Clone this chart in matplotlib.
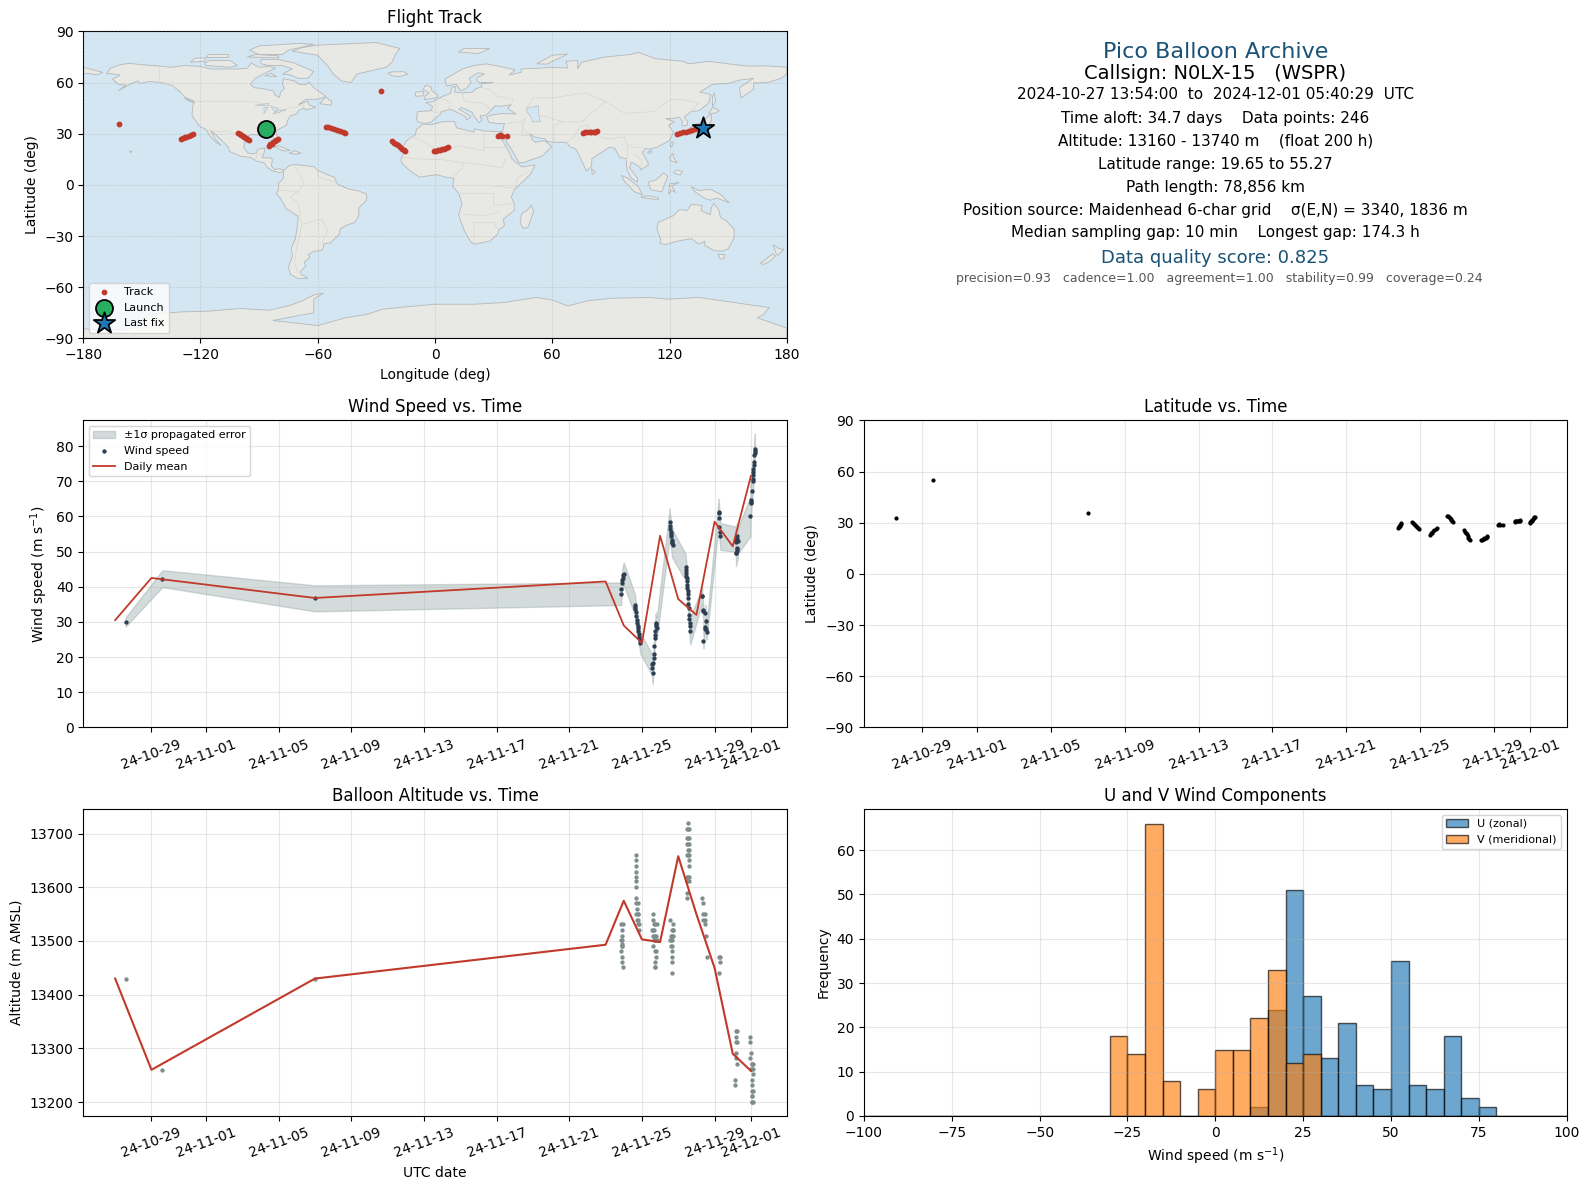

# Pico balloon flight summary: track map, info panel, wind / latitude / altitude series, wind histogram
import matplotlib
matplotlib.use('Agg')
import matplotlib.pyplot as plt
from matplotlib.patches import Polygon
import matplotlib.dates as mdates
import numpy as np
import pandas as pd

# ---------- data, all times are days relative to 2024-11-25 00:00 UTC ----------
base = pd.Timestamp('2024-11-25')

fix_t = [-28.42, -26.40, -18.0,
         -1.17, -1.15, -1.12, -1.10, -1.07, -1.04, -1.00,
         -0.42, -0.37, -0.31, -0.26, -0.21, -0.15, -0.10, -0.05,
         0.53, 0.60, 0.66, 0.72, 0.79, 0.86, 0.93,
         1.50, 1.54, 1.59, 1.63, 1.67, 1.72, 1.77, 1.81,
         2.41, 2.46, 2.50, 2.54, 2.59, 2.63, 2.68, 2.72,
         3.30, 3.36, 3.41, 3.46, 3.51, 3.57, 3.62, 3.67,
         4.27, 4.30, 4.36, 4.50,
         5.15, 5.19, 5.24, 5.28, 5.33, 5.37, 5.42, 5.46,
         5.97, 6.00, 6.04, 6.07, 6.11, 6.14, 6.18, 6.21, 6.236]
fix_lon = [-86.5, -27.6, -161.7,
           -129.7, -129.0, -128.1, -127.2, -126.1, -125.0, -124.0,
           -100.6, -100.0, -99.1, -98.4, -97.6, -96.7, -96.0, -95.2,
           -85.0, -84.2, -83.6, -82.8, -81.9, -81.2, -80.4,
           -56.0, -54.6, -53.1, -51.5, -50.1, -48.4, -47.1, -46.0,
           -22.0, -21.1, -20.0, -19.1, -18.0, -17.1, -16.0, -15.4,
           -0.6, 0.5, 1.4, 2.6, 3.4, 4.6, 5.5, 6.4,
           32.0, 33.1, 34.5, 36.8,
           75.7, 76.9, 77.8, 79.1, 80.0, 81.1, 82.0, 83.0,
           124.0, 125.4, 127.1, 128.6, 130.0, 131.4, 133.1, 134.4, 137.0]
fix_lat = [33.0, 55.27, 35.8,
           27.1, 27.5, 27.9, 28.3, 28.7, 29.1, 29.6,
           30.4, 29.9, 29.2, 28.7, 28.0, 27.4, 26.9, 26.3,
           23.0, 23.7, 24.2, 24.9, 25.6, 26.1, 26.8,
           34.1, 33.7, 33.2, 32.6, 32.2, 31.8, 31.1, 30.6,
           25.5, 24.8, 24.1, 23.2, 22.4, 21.3, 20.4, 19.7,
           19.65, 20.0, 20.4, 20.6, 20.9, 21.3, 21.6, 22.0,
           28.9, 29.0, 28.8, 28.8,
           30.7, 30.8, 30.9, 31.0, 31.1, 31.2, 31.3, 31.4,
           29.9, 30.3, 30.8, 31.3, 31.8, 32.2, 32.7, 33.2, 33.6]

wind_t = [-28.42, -26.40, -18.0,
          -1.15, -1.14, -1.10, -1.08, -1.05, -1.03, -1.00,
          -0.38, -0.37, -0.36, -0.34, -0.31, -0.29, -0.26, -0.24, -0.22, -0.19, -0.17, -0.14, -0.11, -0.09,
          0.55, 0.57, 0.60, 0.62, 0.64, 0.66, 0.69, 0.70, 0.71, 0.73, 0.75, 0.77, 0.79, 0.82,
          1.53, 1.54, 1.56, 1.58, 1.60, 1.62, 1.64, 1.66, 1.68, 1.70,
          2.41, 2.42, 2.43, 2.45, 2.46, 2.47, 2.49, 2.50, 2.51, 2.53, 2.54, 2.56, 2.57, 2.60, 2.61, 2.63, 2.64, 2.66,
          3.31, 3.32, 3.36, 3.38, 3.39, 3.45, 3.47, 3.50, 3.52, 3.55, 3.56,
          4.22, 4.23, 4.25, 4.27, 4.31, 4.32,
          5.16, 5.17, 5.18, 5.19, 5.21, 5.22, 5.23, 5.24, 5.26, 5.28,
          5.97, 5.98, 5.99, 6.00, 6.04, 6.09, 6.10, 6.12, 6.13, 6.14, 6.15, 6.16, 6.19, 6.20, 6.21, 6.22]
wind_v = [30.0, 42.3, 36.7,
          38.0, 39.4, 41.0, 42.0, 42.6, 43.2, 43.7,
          34.8, 34.3, 33.6, 32.9, 31.6, 30.6, 29.7, 28.9, 28.3, 27.4, 26.5, 25.8, 24.9, 24.0,
          17.9, 16.8, 15.4, 18.2, 19.8, 20.8, 23.1, 25.3, 26.4, 27.4, 29.3, 28.8, 29.8, 28.3,
          58.3, 57.2, 56.4, 55.7, 55.0, 54.3, 53.4, 52.4, 52.8, 52.0,
          45.5, 44.7, 43.9, 43.0, 42.5, 41.6, 40.6, 39.5, 38.7, 37.8, 36.8, 35.0, 34.0, 32.1, 30.7, 29.7, 28.8, 27.4,
          37.5, 37.4, 33.5, 33.0, 24.7, 28.1, 28.6, 32.6, 30.2, 27.9, 27.2,
          61.2, 61.1, 59.5, 57.1, 55.6, 54.3,
          53.5, 52.7, 49.5, 49.6, 50.2, 50.6, 54.5, 53.5, 51.0, 53.0,
          60.0, 63.8, 64.7, 64.0, 67.2, 70.0, 70.7, 71.9, 72.5, 73.6, 74.5, 75.4, 77.5, 77.9, 78.5, 79.1]
wind_err = ([1.3, 2.4, 3.7] + [3.2] * 7 + [3.0] * 14 + [3.0] * 14 + [4.0] * 10 + [3.8] * 18
            + [2.2] * 11 + [3.8] * 6 + [3.6] * 10 + [5.7] * 3 + [4.5] * 13)

mean_t = [-29, -27, -18, -2, -1, 0, 1, 2, 3, 4, 5, 6]
mean_wind = [30.5, 42.5, 36.8, 41.5, 29.0, 24.0, 54.5, 36.5, 32.0, 58.5, 51.5, 71.5]
mean_alt = [13430, 13260, 13430, 13493, 13575, 13503, 13498, 13658, 13550, 13450, 13290, 13258]

alt_t = [-28.42, -26.40, -18.0,
         -1.13, -1.04, -1.08, -1.08, -1.13, -1.08, -1.10, -1.08, -1.13, -1.10, -1.08, -1.06, -1.10,
         -0.35, -0.33, -0.34, -0.33, -0.33, -0.34, -0.33, -0.31, -0.20, -0.31, -0.26, -0.22, -0.30, -0.24, -0.20, -0.27, -0.22, -0.16, -0.17,
         0.60, 0.60, 0.64, 0.71, 0.82, 0.58, 0.62, 0.68, 0.60, 0.66, 0.72, 0.78, 0.64, 0.70, 0.82, 0.60, 0.77, 0.73, 0.76, 0.73, 0.72, 0.70,
         1.57, 1.70, 1.66, 1.70, 1.72, 1.60, 1.64, 1.70, 1.57, 1.62, 1.66, 1.58, 1.64, 1.64, 1.66, 1.64, 1.64,
         2.53, 2.50, 2.54, 2.58, 2.50, 2.55, 2.58, 2.50, 2.55, 2.58, 2.55, 2.60, 2.50, 2.55, 2.60, 2.58, 2.58, 2.47, 2.52, 2.58, 2.50, 2.58, 2.47, 2.47,
         3.29, 3.34, 3.37, 3.45, 3.46, 3.38, 3.46, 3.51, 3.56,
         4.22, 4.30, 4.31, 4.22,
         5.20, 5.26, 5.20, 5.18, 5.24, 5.16, 5.20, 5.24, 5.13, 5.13,
         5.97, 5.97, 5.99, 5.97, 6.04, 6.08, 6.13, 6.03, 6.06, 6.13, 6.10, 6.06, 6.04, 6.06, 6.10, 6.04, 6.07, 6.13, 6.08, 6.05]
alt_v = [13430, 13260, 13430,
         13531, 13531, 13520, 13510, 13501, 13501, 13495, 13490, 13481, 13471, 13460, 13451, 13490,
         13661, 13650, 13640, 13629, 13620, 13611, 13600, 13581, 13570, 13570, 13560, 13550, 13550, 13550, 13540, 13540, 13531, 13531, 13520,
         13551, 13540, 13531, 13531, 13531, 13520, 13520, 13520, 13510, 13510, 13510, 13510, 13501, 13501, 13501, 13490, 13481, 13481, 13471, 13460, 13451, 13451,
         13540, 13531, 13520, 13520, 13520, 13510, 13510, 13510, 13501, 13501, 13501, 13490, 13490, 13481, 13471, 13460, 13441,
         13720, 13709, 13709, 13709, 13691, 13691, 13691, 13680, 13680, 13680, 13670, 13670, 13661, 13661, 13661, 13650, 13640, 13620, 13620, 13620, 13611, 13611, 13590, 13581,
         13581, 13570, 13551, 13551, 13540, 13540, 13531, 13510, 13471,
         13471, 13471, 13460, 13441,
         13332, 13332, 13321, 13311, 13311, 13291, 13282, 13270, 13241, 13231,
         13321, 13311, 13291, 13282, 13270, 13270, 13270, 13261, 13261, 13261, 13252, 13241, 13231, 13221, 13221, 13211, 13200, 13200, 13200, 13211]

hist_edges = list(range(-100, 105, 5))
u_counts = [0] * 22 + [2, 24, 51, 27, 13, 21, 7, 6, 35, 7, 6, 18, 4, 2, 0, 0, 0, 0]
v_counts = [0] * 14 + [18, 14, 66, 8, 0, 6, 15, 15, 22, 33, 12, 14] + [0] * 14

date_ticks = ['2024-10-29', '2024-11-01', '2024-11-05', '2024-11-09', '2024-11-13', '2024-11-17',
              '2024-11-21', '2024-11-25', '2024-11-29', '2024-12-01']

info_lines = ['2024-10-27 13:54:00  to  2024-12-01 05:40:29  UTC',
              'Time aloft: 34.7 days    Data points: 246',
              'Altitude: 13160 - 13740 m    (float 200 h)',
              'Latitude range: 19.65 to 55.27',
              'Path length: 78,856 km',
              'Position source: Maidenhead 6-char grid    \u03c3(E,N) = 3340, 1836 m',
              'Median sampling gap: 10 min    Longest gap: 174.3 h']

# rough land outlines, (lon, lat) read by eye
land = [
    [(-168,65.5),(-166,68.5),(-161,70.5),(-156.5,71.3),(-150,70.5),(-141,69.7),(-135,69),(-128,70),(-120,69.5),(-115,68),(-108,68),(-100,68),(-96,68.5),(-94,71.5),(-90,69),(-85,69.5),(-81.5,68.5),(-87,65.5),(-92,62.5),(-94.5,59),(-92.5,57),(-88,56.5),(-82.5,55),(-82,52.8),(-79.5,51.3),(-79,54.5),(-77,56.5),(-78,59),(-77.5,62.3),(-72,61),(-69.5,59),(-66,58.8),(-64.5,60.3),(-61.5,56.5),(-57,53),(-56,51.7),(-60,50.2),(-66,50.2),(-70,47),(-65,49),(-64.5,47),(-61,45.5),(-66,44),(-67,45),(-70,43.5),(-70.5,41.7),(-74,40.5),(-75.5,37.5),(-76,35),(-78,33.8),(-81,32),(-81.3,30),(-80,27),(-80.3,25.2),(-81.8,26),(-82.8,28),(-84,30),(-88,30.3),(-89.5,29.2),(-91,29.3),(-94,29.5),(-97,28),(-97.5,25),(-97.8,22),(-95.8,18.8),(-94,18.2),(-91.5,18.5),(-90.5,21),(-87,21.5),(-87.5,18.5),(-88.5,16),(-84,15.8),(-83.2,14.9),(-83.7,11),(-82,9),(-79.5,9.5),(-77.3,8.5),(-78,7.5),(-80,7.3),(-83,8.2),(-85.7,10),(-87.5,13),(-91.5,14),(-94.5,16.2),(-99,16.7),(-105,19.5),(-105.7,22),(-109,26),(-112.7,30),(-114.7,31.7),(-112.5,27),(-109.5,23),(-112,25),(-115,28.5),(-117.2,32.5),(-120.5,34.5),(-122.5,37.7),(-124.3,40.5),(-124,46),(-123,49),(-128,51.5),(-130.5,54.5),(-134,58),(-139,59.8),(-146,60.7),(-151,59.5),(-152,61),(-157,58.5),(-162,55.2),(-158,58.5),(-162,59),(-165,62),(-161,64.5)],
    [(-80,73.5),(-72,71.5),(-67,69),(-62,66.5),(-65,62.5),(-70,62.5),(-74,64.5),(-78,65),(-73,68),(-78,70),(-85,70),(-89,71),(-89,73.5)],
    [(-117,70),(-105,69),(-101,70),(-105,73),(-115,73),(-118,71.5)],
    [(-125,72),(-118,72.5),(-117,74.5),(-123,74.3)],
    [(-90,76.5),(-78,76.5),(-75,79),(-62,82.5),(-70,83),(-90,81.5),(-95,79)],
    [(-96,75),(-80,74.5),(-80,75.7),(-92,76.5)],
    [(-117,75),(-106,75),(-106,76.5),(-116,76.5)],
    [(-87,64),(-81,63.5),(-84,65.5)],
    [(-59,47.7),(-53,46.7),(-53,49),(-56,51.5)],
    [(-128,50.8),(-123.5,48.4),(-125,48.8)],
    [(-85,22),(-80,23),(-74.2,20.2),(-77.5,19.9),(-82,22.3)],
    [(-74.5,18.5),(-72,20),(-68.5,18.7),(-71,18)],
    [(-156,20),(-155,19.5),(-156,19)],
    [(-73,78.5),(-60,76),(-55,70),(-52,65),(-48,61),(-43,60),(-40,65),(-25,69),(-22,72),(-20,77),(-18,80),(-30,83.5),(-60,82),(-68,80.5)],
    [(-24,65.5),(-22,64),(-18,63.5),(-14,65),(-16,66.4),(-22,66.3)],
    [(-77.3,8.5),(-75,11),(-72,12),(-68,11.5),(-62,10.7),(-60,8.5),(-55,6),(-51.5,4.5),(-50,0.5),(-44,-2.5),(-39,-3.5),(-35,-5.5),(-35,-9),(-39,-13.5),(-39,-18),(-41,-22),(-46,-24),(-48.5,-26),(-49,-29),(-53.5,-34),(-57,-34.5),(-57,-36.5),(-58,-38.5),(-62,-39),(-65,-41),(-64,-42.5),(-67,-45.5),(-66,-47.5),(-69,-51),(-68.5,-52.5),(-65,-54.8),(-70,-55),(-74,-52.5),(-75,-48),(-73,-42),(-73.5,-37),(-71.5,-32),(-70.5,-25),(-70,-18.5),(-76,-14),(-79,-8),(-81.2,-5),(-80,-2.5),(-80,1),(-77.5,4),(-77.5,7)],
    [(-6,35.8),(-2,35.2),(3,36.9),(10,37.3),(11,33.5),(15,32.4),(20,31),(20,32.8),(25,31.7),(32,31.2),(34.3,31.2),(32.6,29.5),(35.5,24),(37.3,20.5),(39.5,15),(43.2,11.7),(44.5,10.5),(51.2,11.8),(49,6.5),(45,2),(40.5,-3),(39,-7),(40.5,-11),(40.5,-15),(35,-20),(35.5,-24),(32.8,-26),(32,-29),(28,-33),(20,-34.8),(18.3,-33.5),(15,-27),(12,-17.5),(13.8,-11),(12.2,-5),(9,-1),(9.7,4),(6,4.3),(1,6),(-4,5.2),(-8,4.5),(-13,8.5),(-16.8,12.5),(-17.5,14.7),(-16,19),(-17,21),(-14.5,26),(-10,29.5),(-9.5,32.5)],
    [(49.3,-12),(50.5,-15.5),(47.5,-25),(45,-25.5),(43.5,-22),(44.3,-17),(47,-15)],
    [(-9,37),(-9.4,39),(-9,43),(-2,43.5),(-1.2,46),(-4.7,48.4),(-1.5,48.7),(1.5,50.5),(4,52),(8,53.7),(8.5,57),(10.7,57.7),(10,54.5),(14,54),(19,54.4),(21,56.5),(24,57.5),(23.5,59.3),(30,60),(23,60),(21.3,61),(21.5,63),(25.3,65),(22,65.8),(17.5,62.5),(18.5,60),(16.5,57),(14.3,55.5),(12.8,55.6),(11,59),(6,58),(5,62),(14,68),(20,70),(26,71),(31,70),(41,67.5),(38,64.5),(44,66),(44,68),(54,68.5),(60,69),(68,68.5),(67,72.5),(73,73),(73,68),(75,72),(81,73.5),(87,75),(100,76.5),(104,77.7),(113,74),(127,72.5),(130,71),(140,72.5),(150,71),(160,69.7),(170,69.8),(180,69),(180,65),(177,62.5),(170,60),(163,59.8),(163,56),(156.5,51),(155.7,57),(163,62.5),(156,61.5),(150,59.5),(142,59),(135.5,54.5),(141,53),(140,48),(135,43.5),(131,43),(127.5,39.8),(129.3,37),(129,35),(126.3,34.5),(126.5,37.5),(125,39.7),(121.5,39),(118,39),(122.5,37),(119.5,35),(122,31),(120,26),(114,22.3),(110,21),(108,21.5),(106,19),(109,13),(109,11.5),(105,8.7),(105,10.2),(100.5,13.5),(99.5,10),(103.5,4),(103.5,1.5),(100.5,4),(98.3,8.5),(97.7,15.5),(94.5,16),(92,21.5),(89,22),(86.5,20),(80.3,15.5),(80,11),(77.5,8),(73,19),(72,21),(69,22.5),(67,25),(61.5,25),(57,25.5),(56.5,27),(51,28),(48.5,30),(50,26),(51.5,25),(56,26),(59.8,22.5),(55,17),(45,13),(43,13),(39,21),(35,28),(34.5,31.3),(35.5,36),(32,36),(27.5,36.7),(26.5,40),(29,41),(35,42),(41.5,41.5),(37,45),(39,47),(33.5,46),(31,46.5),(28,43),(26,40.8),(23,40.5),(24,38),(22.5,36.5),(19.5,41),(19,42.5),(13.5,45.5),(12.3,44.5),(16,41.8),(18.4,40),(16,38),(15.7,40),(10.5,43),(8,44.3),(3.2,43),(3,41.7),(-0.5,38.5),(-2,36.8),(-5.5,36)],
    [(-180,69),(-175,67.5),(-170,66),(-173,64.5),(-178,65.5),(-180,65)],
    [(-5.5,50),(1.3,51.2),(1.5,52.8),(-1.5,55),(-2,57.5),(-5,58.5),(-6,56),(-3,54),(-5,52)],
    [(-10,52),(-6,52.2),(-6,55),(-10,54.3)],
    [(52,71),(57,70.8),(68,76.8),(60,76)],
    [(12,78),(22,77),(28,80),(15,80)],
    [(142,46),(143.5,49),(143,54),(142,52)],
    [(130.5,31.3),(132,33),(135.5,33.6),(140,35),(141.5,38),(141.3,41.3),(140,40.5),(137,37),(132.5,35),(130.5,33.5)],
    [(140,42),(143,42),(145.5,43.5),(142,45.5)],
    [(120.2,23),(121,22),(122,25),(121,25.2)],
    [(108.7,19),(110,18.3),(111,20),(109.8,20)],
    [(120,16),(121.7,18.5),(122,16),(124,13),(120.7,14)],
    [(122,7),(125.5,5.7),(126.5,8),(123.5,8.7)],
    [(109,1.5),(113,3),(117,7),(119,5),(117.7,1),(116,-4),(110.5,-3)],
    [(95.3,5.6),(98.5,4),(104,-1),(106,-5.8),(102,-4),(97,2)],
    [(105.3,-6.7),(110,-6.5),(114.5,-7.7),(114,-8.7),(106,-7.5)],
    [(119.5,-5.5),(120,0.5),(125,1.5),(121,-0.5),(123,-4.5),(121,-3)],
    [(131,-1),(135,-3.3),(141,-2.6),(146,-5.5),(150.5,-10.5),(144,-7.7),(141,-9),(138,-8),(133,-4)],
    [(80,9.5),(82,7.5),(80.5,6)],
    [(114,-22),(113.5,-26),(115.5,-32),(115,-34.3),(118,-35),(124,-33),(131,-31.5),(135,-34.7),(138,-33),(138,-35.5),(143,-38.7),(147,-38.8),(150,-37.5),(153,-31),(153,-26),(149,-21),(146,-19),(145.3,-15),(142.7,-10.8),(141.5,-13),(140.8,-17.5),(136,-15),(136.7,-12),(131,-11.5),(129,-15),(125,-14.5),(122,-18)],
    [(144.7,-40.7),(148.3,-40.8),(147.8,-43.2),(146,-43.5)],
    [(173,-35),(176,-37.5),(178.5,-37.7),(175.3,-41.5),(174,-39)],
    [(172.7,-40.6),(174.2,-41.7),(171,-45),(168,-46.7),(166.5,-46),(171,-42)],
    [(-180,-90),(-180,-84.5),(-158,-85),(-150,-81),(-146,-76),(-130,-74.5),(-115,-74),(-100,-72.5),(-85,-73.5),(-75,-71),(-68,-68),(-62,-64.5),(-57,-63.5),(-62,-67),(-62,-72),(-62,-75),(-83,-79.5),(-60,-82.5),(-46,-78),(-35,-76),(-27,-73),(-15,-71.5),(0,-70),(20,-70),(35,-69),(52,-66),(60,-67.5),(68,-71),(78,-68),(90,-66.5),(110,-66),(119,-67),(135,-66),(150,-68.5),(165,-71),(171,-72),(168,-76),(165,-78),(180,-84),(180,-90)],
]
lakes = [
    [(47,45),(53,46.5),(53,41),(54,37),(50,37),(49,40),(47,43)],
    [(-92,46.7),(-85,47.8),(-85,46.5)],
    [(-87.5,41.7),(-85.5,45.5),(-87.5,45.5)],
    [(-84,46),(-80,45),(-82,43)],
    [(-83,41.6),(-79,42.8),(-79,43.4),(-76.5,43.6),(-76.5,44),(-80,43.8)],
]
borders = [
    [(-123,49),(-95,49),(-89,48),(-83,46),(-82,42),(-79,43),(-75,45),(-70,46),(-67.5,47),(-67,45)],
    [(-141,69.7),(-141,60),(-135,58.5),(-130,55)],
    [(-117,32.5),(-111,31.3),(-106.5,31.7),(-101,29.5),(-97.3,26)],
    [(-92,14.5),(-91,17.5),(-89,18)],
    [(-72,12),(-67,1),(-70,-4),(-74,-7),(-70,-11),(-69,-18)],
    [(-60,8.5),(-60,5),(-52,2),(-50,0.5)],
    [(-70,-18),(-68,-23),(-70,-33),(-72,-45),(-70,-52)],
    [(-68,-23),(-58,-20),(-55,-27),(-58,-34)],
    [(-80,-3),(-70,-4)],
    [(-13,28),(-8,27),(3,19),(12,23),(25,20),(25,31.7)],
    [(-16,16),(-5,15),(3,15),(14,13),(24,12),(34,10),(36,15)],
    [(25,22),(37,22)],
    [(9,4),(14,10),(14,13)],
    [(12,-5),(30,-5),(30,-12),(40,-11)],
    [(12,-17),(25,-18),(33,-16)],
    [(20,-34),(20,-22),(30,-22),(32,-26)],
    [(30,-1),(34,-1),(41,-2),(42,4),(48,8)],
    [(-1.5,43),(3,42.5)],
    [(2,51),(8,49),(7,44)],
    [(14,54),(15,49),(24,48),(28,45),(28,43)],
    [(24,57),(28,56),(32,52),(40,50),(39,47)],
    [(48,42),(47,45),(50,51),(60,51),(77,54),(87,49),(97,42),(112,43),(120,50),(127,50),(135,48),(131,43)],
    [(53,41),(66,37),(75,37),(80,42),(87,49)],
    [(61,25),(61,35),(66,37)],
    [(67,25),(71,28),(74,34),(78,35),(80,30),(88,27),(97,28),(98,24),(102,22),(108,21.5)],
    [(36,36),(44,37),(46,39),(44,29),(48,29)],
    [(44,37),(45,33),(48,30)],
    [(98,24),(98,16)],
    [(102,18),(106,14),(105,10)],
]

plt.rcParams['font.family'] = ['DejaVu Sans']
fig = plt.figure(figsize=(15.9, 11.89), dpi=100)


def place(x0, y0, x1, y1):
    # picture position to figure fractions
    W, H = 1568.0, 1172.0
    return fig.add_axes([x0 / W, 1 - y1 / H, (x1 - x0) / W, (y1 - y0) / H])


def to_dates(days):
    return base + pd.to_timedelta(np.array(days, dtype=float), unit='D')


def date_axis(ax):
    ax.set_xticks(pd.to_datetime(date_ticks))
    ax.xaxis.set_major_formatter(mdates.DateFormatter('%y-%m-%d'))
    ax.tick_params(axis='x', labelrotation=20)
    ax.grid(True, alpha=0.3)


RED = '#c0392b'
BLUE = '#1a5276'
t_fix = to_dates(fix_t)
t_wind = to_dates(wind_t)
t_alt = to_dates(alt_t)
t_mean = to_dates(mean_t)

# flight track
ax1 = place(82, 31, 776, 333.5)
ax1.set_facecolor('#d4e6f1')
for poly in land:
    ax1.add_patch(Polygon(poly, closed=True, fc='#e8e8e4', ec='#b4b8ba', lw=0.6, zorder=1))
for poly in lakes:
    ax1.add_patch(Polygon(poly, closed=True, fc='#d4e6f1', ec='#b4b8ba', lw=0.4, zorder=1.2))
for line in borders:
    xs, ys = zip(*line)
    ax1.plot(xs, ys, color='#d6d6d2', lw=0.5, zorder=1.1)
ax1.scatter(fix_lon, fix_lat, s=10, color=RED, label='Track', zorder=3)
ax1.scatter(fix_lon[0], fix_lat[0], s=150, color='#27ae60', edgecolor='k', linewidth=1.3, label='Launch', zorder=4)
ax1.scatter(fix_lon[-1], fix_lat[-1], s=260, marker='*', color='#1f77b4', edgecolor='k', linewidth=1.3, label='Last fix', zorder=4)
ax1.set_xlim(-180, 180)
ax1.set_ylim(-90, 90)
ax1.set_xticks(range(-180, 181, 60))
ax1.set_yticks(range(-90, 91, 30))
ax1.grid(True, color='#808080', ls='--', lw=0.5, alpha=0.25, zorder=2)
ax1.set_axisbelow(False)
ax1.set_xlabel('Longitude (deg)')
ax1.set_ylabel('Latitude (deg)')
ax1.set_title('Flight Track')
ax1.legend(loc='lower left', fontsize=8)

# summary text
ax2 = place(852, 31, 1545, 334)
ax2.axis('off')
ax2.set_xlim(0, 1)
ax2.set_ylim(1, 0)


def yfrac(y):
    return (y - 31) / 303.0


ax2.text(0.5, yfrac(50.8), 'Pico Balloon Archive', ha='center', va='center', fontsize=16, color=BLUE)
ax2.text(0.5, yfrac(72), 'Callsign: N0LX-15   (WSPR)', ha='center', va='center', fontsize=14)
for y, s in zip([93.4, 116.8, 138.8, 161.8, 184.8, 207, 229], info_lines):
    ax2.text(0.5, yfrac(y), s, ha='center', va='center', fontsize=11)
ax2.text(0.5, yfrac(254), 'Data quality score: 0.825', ha='center', va='center', fontsize=13, color=BLUE)
ax2.text(0.5058, yfrac(275), 'precision=0.93   cadence=1.00   agreement=1.00   stability=0.99   coverage=0.24',
         ha='center', va='center', fontsize=9, color='#555555')

# wind speed
ax3 = place(82, 414.4, 776, 717)
wind_arr = np.array(wind_v)
err_arr = np.array(wind_err)
ax3.fill_between(t_wind, wind_arr - err_arr, wind_arr + err_arr, color='#95a5a6', alpha=0.4, label='\u00b11\u03c3 propagated error')
ax3.scatter(t_wind, wind_arr, s=4.5, color='#2c3e50', label='Wind speed', zorder=3)
ax3.plot(t_mean, mean_wind, color=RED, lw=1.3, label='Daily mean', zorder=4)
ax3.set_ylim(0, 87.3)
date_axis(ax3)
ax3.set_ylabel('Wind speed (m s$^{-1}$)')
ax3.set_title('Wind Speed vs. Time')
ax3.legend(loc='upper left', fontsize=8)

# latitude, its own autoscaled x range (no daily mean here)
ax4 = place(852, 414.4, 1545, 717)
ax4.scatter(t_fix, fix_lat, s=4, color='k', zorder=3)
ax4.set_ylim(-90, 90)
ax4.set_yticks(range(-90, 91, 30))
date_axis(ax4)
ax4.set_ylabel('Latitude (deg)')
ax4.set_title('Latitude vs. Time')

# altitude
ax5 = place(82, 797.4, 776, 1100)
ax5.scatter(t_alt, alt_v, s=4.5, color='#7f8c8d', zorder=3)
ax5.plot(t_mean, mean_alt, color=RED, lw=1.5, zorder=4)
ax5.set_ylim(13174, 13746)
ax5.set_xlim(ax3.get_xlim())
date_axis(ax5)
ax5.set_xlabel('UTC date')
ax5.set_ylabel('Altitude (m AMSL)')
ax5.set_title('Balloon Altitude vs. Time')

# wind components
ax6 = place(852, 797.4, 1545, 1100)
centers = np.array(hist_edges[:-1]) + 2.5
ax6.hist(centers, bins=hist_edges, weights=u_counts, alpha=0.65, color='#1f77b4', edgecolor='k', label='U (zonal)')
ax6.hist(centers, bins=hist_edges, weights=v_counts, alpha=0.65, color='#ff7f0e', edgecolor='k', label='V (meridional)')
ax6.set_xlim(-100, 100)
ax6.grid(True, alpha=0.3)
ax6.set_xlabel('Wind speed (m s$^{-1}$)')
ax6.set_ylabel('Frequency')
ax6.set_title('U and V Wind Components')
ax6.legend(loc='upper right', fontsize=8)

fig.savefig('out.png', dpi=100)
